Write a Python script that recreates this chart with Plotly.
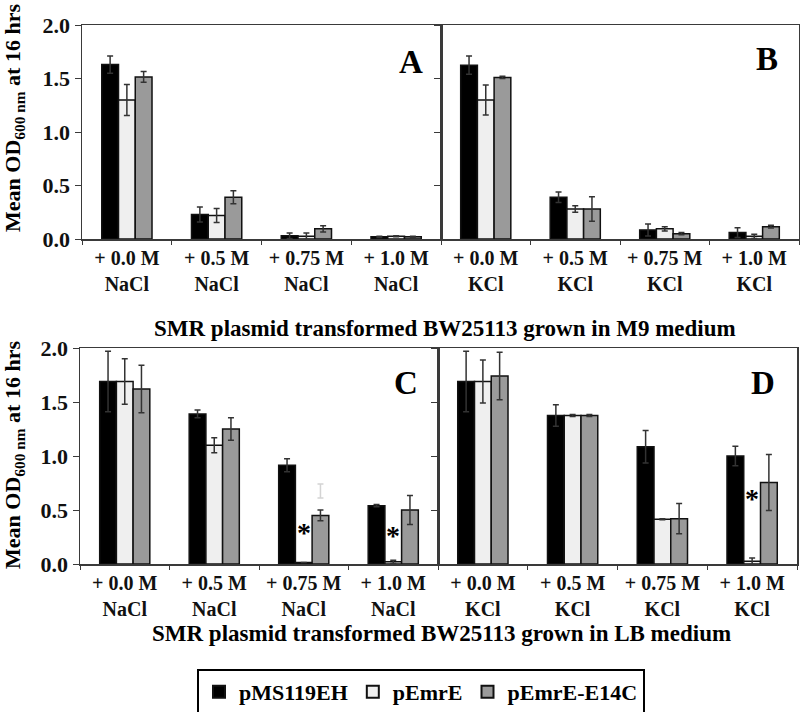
import plotly.graph_objects as go

# ---------------- data ----------------
conc_labels = ["+ 0.0 M", "+ 0.5 M", "+ 0.75 M", "+ 1.0 M"]
strains = ["pMS119EH", "pEmrE", "pEmrE-E14C"]
strain_colors = ["#000000", "#efefef", "#9a9a9a"]

# Panel A : M9 medium + NaCl
a_pms119eh = [1.63, 0.23, 0.03, 0.02]
a_pms119eh_err = [0.08, 0.07, 0.025, 0.005]
a_pemre = [1.30, 0.22, 0.025, 0.025]
a_pemre_err = [0.145, 0.065, 0.03, 0.005]
a_e14c = [1.515, 0.39, 0.095, 0.02]
a_e14c_err = [0.05, 0.06, 0.03, 0.005]

# Panel B : M9 medium + KCl
b_pms119eh = [1.625, 0.39, 0.085, 0.06]
b_pms119eh_err = [0.085, 0.05, 0.056, 0.045]
b_pemre = [1.30, 0.28, 0.095, 0.025]
b_pemre_err = [0.14, 0.03, 0.02, 0.02]
b_e14c = [1.51, 0.28, 0.05, 0.115]
b_e14c_err = [0.01, 0.115, 0.01, 0.013]

# Panel C : LB medium + NaCl
c_pms119eh = [1.69, 1.39, 0.915, 0.54]
c_pms119eh_err = [0.28, 0.035, 0.06, 0.01]
c_pemre = [1.69, 1.10, 0.015, 0.02]
c_pemre_err = [0.21, 0.07, 0.0, 0.015]
c_e14c = [1.62, 1.25, 0.45, 0.50]
c_e14c_err = [0.22, 0.105, 0.05, 0.135]
c_faint_bar = [None, None, 0.675, None]      # faint stray error bar in panel C
c_faint_err = [0, 0, 0.065, 0]

# Panel D : LB medium + KCl
d_pms119eh = [1.69, 1.375, 1.085, 1.0]
d_pms119eh_err = [0.28, 0.10, 0.15, 0.09]
d_pemre = [1.69, 1.375, 0.415, 0.025]
d_pemre_err = [0.20, 0.01, 0.005, 0.03]
d_e14c = [1.74, 1.375, 0.42, 0.755]
d_e14c_err = [0.22, 0.01, 0.14, 0.26]

# significance asterisks: (panel, category index, y)
asterisks = [("C", 2, 0.29), ("C", 3, 0.26), ("D", 3, 0.61)]

panel_letters = ["A", "B", "C", "D"]
panel_salts = ["NaCl", "KCl", "NaCl", "KCl"]
medium_titles = ["SMR plasmid transformed BW25113 grown in M9 medium",
                 "SMR plasmid transformed BW25113 grown in LB medium"]
y_title = "Mean OD<sub>600 nm</sub> at 16 hrs"
y_ticks = [0.0, 0.5, 1.0, 1.5, 2.0]

panels = {
    "A": [(a_pms119eh, a_pms119eh_err), (a_pemre, a_pemre_err), (a_e14c, a_e14c_err)],
    "B": [(b_pms119eh, b_pms119eh_err), (b_pemre, b_pemre_err), (b_e14c, b_e14c_err)],
    "C": [(c_pms119eh, c_pms119eh_err), (c_pemre, c_pemre_err), (c_e14c, c_e14c_err)],
    "D": [(d_pms119eh, d_pms119eh_err), (d_pemre, d_pemre_err), (d_e14c, d_e14c_err)],
}

# ---------------- layout geometry (pixels) ----------------
W, H = 800, 712
px_x = {"A": (82, 441), "B": (441, 799), "C": (80, 438), "D": (438, 797)}
px_y = {"A": (25, 239), "B": (25, 239), "C": (348, 564), "D": (348, 564)}

FONT = "Liberation Serif, Times New Roman, serif"
LINE = "#3a3a3a"

fig = go.Figure()

for i, p in enumerate(panel_letters):
    ax = "" if i == 0 else str(i + 1)
    cats = [f"{c}<br>{panel_salts[i]}" for c in conc_labels]
    for j, (vals, errs) in enumerate(panels[p]):
        fig.add_trace(go.Bar(
            x=cats, y=vals, name=strains[j], legendgroup=strains[j],
            showlegend=(i == 0), offsetgroup=str(j),
            marker=dict(color=strain_colors[j], line=dict(color="#111111", width=1.5)),
            error_y=dict(type="data", array=errs, visible=True,
                         color="#333333", thickness=1.5, width=3),
            xaxis="x" + ax, yaxis="y" + ax,
        ))
    if p == "C":
        fig.add_trace(go.Bar(
            x=cats, y=c_faint_bar, showlegend=False, offsetgroup="2",
            marker=dict(color="rgba(0,0,0,0)", line=dict(width=0)),
            error_y=dict(type="data", array=c_faint_err, visible=True,
                         color="#d4d4d4", thickness=1.5, width=3),
            xaxis="x" + ax, yaxis="y" + ax, hoverinfo="skip",
        ))
    x0, x1 = px_x[p]
    y0, y1 = px_y[p]
    fig.layout["xaxis" + ax] = dict(
        domain=[x0 / W, x1 / W], anchor="y" + ax, type="category", automargin=False,
        showline=True, linecolor=LINE, linewidth=1.5, mirror=True,
        ticks="outside", tickson="boundaries", ticklen=4, tickcolor=LINE,
        tickfont=dict(family=FONT, size=20, color="#111", weight="bold"),
        showgrid=False, zeroline=False, fixedrange=True,
    )
    fig.layout["yaxis" + ax] = dict(
        domain=[1 - y1 / H, 1 - y0 / H], anchor="x" + ax, automargin=False,
        range=[0, 2.0], tickvals=y_ticks, tickformat=".1f",
        showticklabels=(p in ("A", "C")),
        showline=True, linecolor=LINE, linewidth=1.5, mirror=True,
        ticks="outside", ticklen=6, tickcolor=LINE,
        tickfont=dict(family=FONT, size=22, color="#111", weight="bold"),
        showgrid=False, zeroline=False, fixedrange=True,
    )

annotations = []
# panel letters
letter_pos = {"A": (411, 62), "B": (767, 59), "C": (406, 383), "D": (763, 383)}
for p, (lx, ly) in letter_pos.items():
    annotations.append(dict(text=p, x=lx / W, y=1 - ly / H, xref="paper", yref="paper",
                            showarrow=False, xanchor="center", yanchor="middle",
                            font=dict(family=FONT, size=33, color="#000", weight="bold")))
# medium titles
for t, (tx, ty) in zip(medium_titles, [(445, 328), (441, 633)]):
    annotations.append(dict(text=t, x=tx / W, y=1 - ty / H, xref="paper", yref="paper",
                            showarrow=False, xanchor="center", yanchor="middle",
                            font=dict(family=FONT, size=23, color="#000", weight="bold")))
# y-axis titles
for cy in (118, 455):
    annotations.append(dict(text=y_title, x=14 / W, y=1 - cy / H, xref="paper", yref="paper",
                            showarrow=False, textangle=-90, xanchor="center", yanchor="middle",
                            font=dict(family=FONT, size=22, color="#000", weight="bold")))
# asterisks
ax_of = {"A": "", "B": "2", "C": "3", "D": "4"}
for p, ci, yv in asterisks:
    annotations.append(dict(text="*", x=ci, y=yv, xref="x" + ax_of[p], yref="y" + ax_of[p],
                            showarrow=False, xanchor="center", yanchor="middle",
                            font=dict(family=FONT, size=28, color="#000", weight="bold")))

fig.update_layout(
    width=W, height=H, margin=dict(l=0, r=0, t=0, b=0, autoexpand=False),
    paper_bgcolor="white", plot_bgcolor="white",
    barmode="group", bargap=0.44, bargroupgap=0,
    annotations=annotations,
    showlegend=True,
    legend=dict(orientation="h", x=421 / W, y=1 - 692 / H, xanchor="center", yanchor="middle",
                bordercolor="#000", borderwidth=2, bgcolor="white",
                font=dict(family=FONT, size=22, color="#000", weight="bold"),
                itemsizing="constant", traceorder="normal"),
    font=dict(family=FONT),
)

fig.write_html("out.html",
               config={"displayModeBar": False, "staticPlot": True},
               post_script="document.body.style.margin='0';document.body.style.overflow='hidden';")
